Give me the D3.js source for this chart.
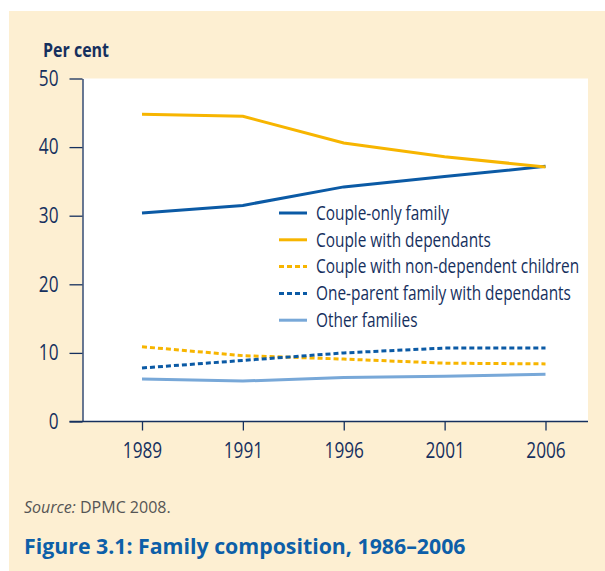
<!DOCTYPE html>
<html lang="en">
<head>
    <meta charset="UTF-8">
    <title>Family composition, 1986–2006</title>
    <style>
        body { margin: 0; background: #fff; }
        svg { display: block; }
        .cond { font-family: "Open Sans", "Noto Sans", sans-serif; }
    </style>
</head>
<body>
    <svg width="605" height="571"></svg>

    <script src="https://d3js.org/d3.v7.min.js"></script>
    <script>
        // data
        const years = ["1989", "1991", "1996", "2001", "2006"];
        const seriesNames = [
            "Couple-only family",
            "Couple with dependants",
            "Couple with non-dependent children",
            "One-parent family with dependants",
            "Other families"
        ];
        const coupleOnly = [30.4, 31.5, 34.2, 35.7, 37.2];
        const coupleDependants = [44.8, 44.5, 40.6, 38.6, 37.1];
        const coupleNonDependent = [10.9, 9.6, 9.1, 8.5, 8.4];
        const oneParent = [7.8, 8.9, 10.0, 10.7, 10.7];
        const otherFamilies = [6.2, 5.9, 6.4, 6.6, 6.9];
        const yTicks = [0, 10, 20, 30, 40, 50];

        const navy = "#16305e";
        const styles = [
            {color: "#0b5aa5", dash: null},
            {color: "#f7b500", dash: null},
            {color: "#f7b500", dash: "5,3"},
            {color: "#0b5aa5", dash: "5,3"},
            {color: "#78a8d8", dash: null}
        ];
        const values = [coupleOnly, coupleDependants, coupleNonDependent, oneParent, otherFamilies];
        const series = seriesNames.map((name, i) => ({name, values: values[i], ...styles[i]}));

        // squeeze text horizontally to mimic the condensed face of the original
        function condense(sel, k) {
            sel.each(function() {
                const t = d3.select(this);
                const x0 = +t.attr("x") || 0;
                t.attr("x", x0 / k).attr("transform", `scale(${k},1)`);
            });
        }

        const svg = d3.select("svg");

        // beige panel
        svg.append("rect")
            .attr("x", 9).attr("y", 11)
            .attr("width", 596).attr("height", 560)
            .attr("fill", "#fdefd2");

        const plot = {left: 82.5, right: 588, top: 78.5, bottom: 421.5};

        svg.append("rect")
            .attr("x", plot.left).attr("y", plot.top)
            .attr("width", plot.right - plot.left)
            .attr("height", plot.bottom - plot.top)
            .attr("fill", "#fff");

        const x = d3.scalePoint().domain(years).range([142, 545.5]);
        const y = d3.scaleLinear().domain([0, 50]).range([plot.bottom, plot.top]);

        // y axis
        const yAxis = svg.append("g")
            .attr("transform", `translate(${plot.left},0)`)
            .call(d3.axisLeft(y).tickValues(yTicks).tickSize(13).tickPadding(11).tickSizeOuter(0));
        yAxis.select(".domain").attr("stroke", navy).attr("stroke-width", 1.3);
        yAxis.selectAll(".tick line").attr("stroke", navy).attr("stroke-width", 1.3);
        yAxis.selectAll(".tick text")
            .attr("class", "cond")
            .attr("fill", navy).style("font-size", "21px")
            .call(condense, 0.82);

        // x axis
        const xAxis = svg.append("g")
            .attr("transform", `translate(0,${plot.bottom})`)
            .call(d3.axisBottom(x).tickSize(9).tickPadding(13).tickSizeOuter(0));
        xAxis.select(".domain").attr("d", `M${plot.left - 13},0H${plot.right}`)
            .attr("stroke", navy).attr("stroke-width", 1.3);
        xAxis.selectAll(".tick line").attr("stroke", navy).attr("stroke-width", 1.3);
        xAxis.selectAll(".tick text")
            .attr("class", "cond")
            .attr("fill", navy).style("font-size", "21px")
            .call(condense, 0.82);

        // lines
        const line = d3.line()
            .x((d, i) => x(years[i]))
            .y(d => y(d));

        svg.append("g").selectAll("path")
            .data(series)
            .join("path")
            .attr("d", d => line(d.values))
            .attr("fill", "none")
            .attr("stroke", d => d.color)
            .attr("stroke-width", 3)
            .attr("stroke-dasharray", d => d.dash);

        // legend
        const legend = svg.append("g").attr("transform", "translate(279,213)");
        const rows = legend.selectAll("g")
            .data(series)
            .join("g")
            .attr("transform", (d, i) => `translate(0,${i * 26.8})`);
        rows.append("line")
            .attr("x1", 0).attr("x2", 28)
            .attr("stroke", d => d.color)
            .attr("stroke-width", 3)
            .attr("stroke-dasharray", d => d.dash);
        rows.append("text")
            .attr("class", "cond")
            .attr("x", 37).attr("dy", "0.35em")
            .attr("fill", navy)
            .style("font-size", "19.5px")
            .text(d => d.name)
            .call(condense, 0.79);

        // y axis title
        svg.append("text")
            .attr("class", "cond")
            .attr("x", 43).attr("y", 57)
            .attr("fill", navy)
            .style("font-size", "20px")
            .style("font-weight", "bold")
            .text("Per cent")
            .call(condense, 0.8);

        // source note
        const src = svg.append("text")
            .attr("x", 24).attr("y", 513)
            .attr("fill", "#555")
            .style("font-family", "'Open Sans', sans-serif")
            .style("font-size", "16px");
        src.append("tspan").style("font-style", "italic").text("Source:");
        src.append("tspan").text(" DPMC 2008.");

        // figure title
        svg.append("text")
            .attr("x", 24).attr("y", 554)
            .attr("fill", "#0d5fa8")
            .style("font-family", "'Open Sans', sans-serif")
            .style("font-size", "21.3px")
            .style("font-weight", "bold")
            .text("Figure 3.1: Family composition, 1986–2006");
    </script>
</body>
</html>
